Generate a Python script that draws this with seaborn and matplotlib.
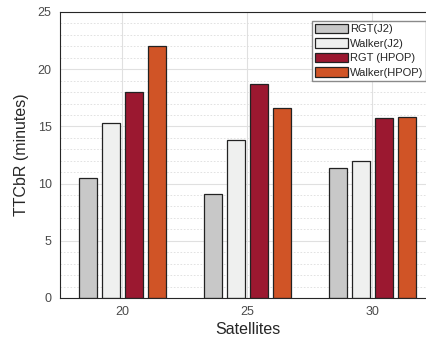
import matplotlib
matplotlib.use("Agg")
import matplotlib.pyplot as plt
import seaborn as sns
import pandas as pd
from matplotlib.ticker import MultipleLocator

# данные
satellites = ["20", "25", "30"]
series = ["RGT(J2)", "Walker(J2)", "RGT (HPOP)", "Walker(HPOP)"]
rgt_j2 = [10.5, 9.1, 11.4]
walker_j2 = [15.3, 13.8, 12.0]
rgt_hpop = [18.05, 18.7, 15.7]
walker_hpop = [22.0, 16.65, 15.85]
colors = ["#c8c8c8", "#eff0ef", "#9b1830", "#d05426"]

rows = []
for name, vals in zip(series, [rgt_j2, walker_j2, rgt_hpop, walker_hpop]):
    for sat, v in zip(satellites, vals):
        rows.append({"Satellites": sat, "Method": name, "TTCbR": v})
df = pd.DataFrame(rows)

sns.set_style("white")
plt.rcParams["font.family"] = ["Liberation Sans", "DejaVu Sans"]

fig = plt.figure(figsize=(4.27, 3.39), dpi=100)
ax = fig.add_axes([60 / 427, 41 / 339, 375 / 427, 286 / 339])

sns.barplot(data=df, x="Satellites", y="TTCbR", hue="Method",
            hue_order=series, order=satellites, palette=colors,
            width=0.73, gap=0.2, edgecolor="#222222", linewidth=0.9,
            saturation=1, ax=ax, errorbar=None, legend=True)

ax.set_xlim(-0.5, 2.5)
ax.set_ylim(0, 25)
ax.yaxis.set_major_locator(MultipleLocator(5))
ax.yaxis.set_minor_locator(MultipleLocator(1))
ax.set_axisbelow(True)
ax.grid(True, which="major", axis="both", color="#e0e0e0", linewidth=0.8, linestyle="-")
ax.grid(True, which="minor", axis="y", color="#dddddd", linewidth=0.6, linestyle=(0, (2, 2)))

for s in ["left", "bottom", "top"]:
    ax.spines[s].set_color("#262626")
    ax.spines[s].set_linewidth(0.8)
ax.spines["right"].set_visible(False)
ax.tick_params(axis="both", which="major", direction="in", length=3,
               labelsize=9, labelcolor="#4a4a4a", color="#262626", pad=6)
ax.tick_params(axis="y", which="minor", direction="in", length=0)

ax.set_xlabel("Satellites", fontsize=11.5, color="#262626", labelpad=3)
ax.set_ylabel("TTCbR (minutes)", fontsize=11.5, color="#262626", labelpad=6)

ax.legend(loc="upper left", bbox_to_anchor=(312 / 427, 1 - 21 / 339),
          bbox_transform=fig.transFigure, borderaxespad=0, fontsize=8,
          frameon=True, fancybox=False, framealpha=1, edgecolor="#8a8a8a",
          handlelength=3.0, handleheight=0.95, labelspacing=0.35,
          handletextpad=0.15, borderpad=0.25, title=None)

fig.savefig("out.png", dpi=100)
